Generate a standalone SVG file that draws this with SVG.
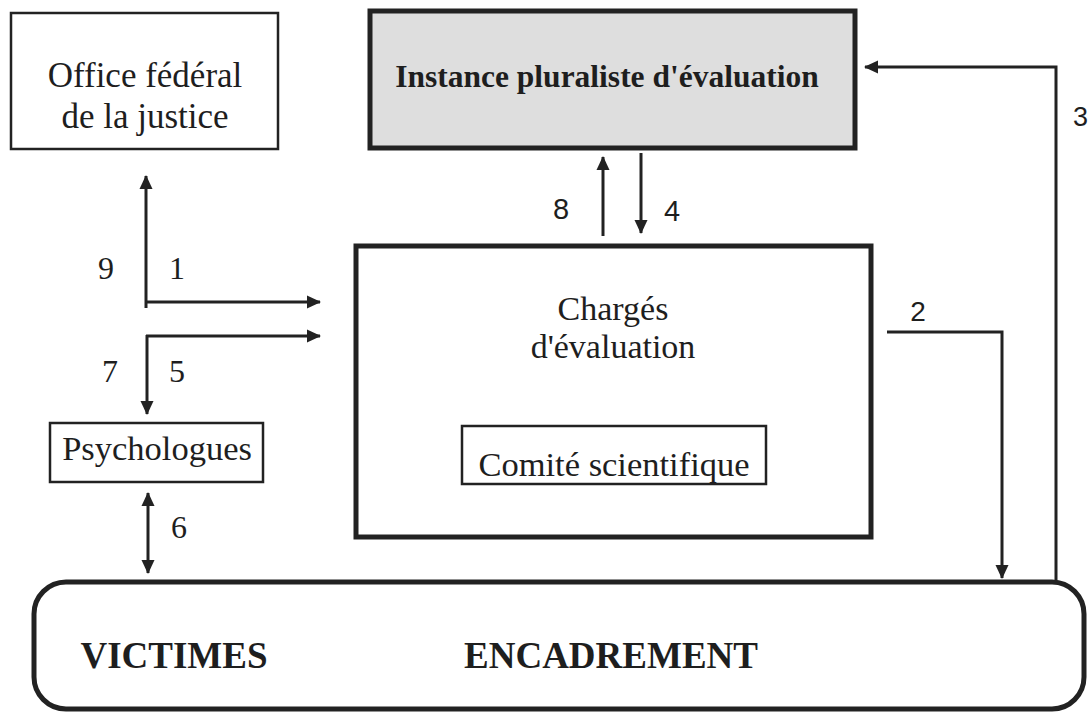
<svg xmlns="http://www.w3.org/2000/svg" width="1089" height="713" viewBox="0 0 1089 713">
<style>
.serif{font-family:"Liberation Serif","Times New Roman",serif;fill:#1e1e1e}
.sans{font-family:"Liberation Sans",Arial,sans-serif;fill:#1e1e1e}
.box{fill:#fff;stroke:#222}
.conn{fill:none;stroke:#222;stroke-width:3}
</style>
<defs>
<marker id="ah" markerUnits="userSpaceOnUse" markerWidth="16" markerHeight="16" viewBox="0 0 16 16" refX="14" refY="8" orient="auto-start-reverse">
<path d="M1,1.5 L15,8 L1,14.5 Z" fill="#222"/>
</marker>
</defs>
<rect width="1089" height="713" fill="#fff"/>

<g id="office">
<rect class="box" x="11" y="13" width="267" height="136" stroke-width="2.5"/>
<text class="serif" x="145" y="87" font-size="35" text-anchor="middle">Office fédéral</text>
<text class="serif" x="145" y="128" font-size="35" text-anchor="middle">de la justice</text>
</g>

<g id="instance">
<rect x="370" y="11" width="485" height="137" fill="#dedede" stroke="#222" stroke-width="5"/>
<text class="serif" x="607" y="87" font-size="31.5" font-weight="bold" text-anchor="middle">Instance pluraliste d'évaluation</text>
</g>

<g id="charges">
<rect class="box" x="356" y="246" width="515" height="291" stroke-width="5"/>
<text class="serif" x="613" y="320" font-size="34" text-anchor="middle">Chargés</text>
<text class="serif" x="613" y="358" font-size="34" text-anchor="middle">d'évaluation</text>
</g>

<g id="comite">
<rect class="box" x="462" y="426" width="304" height="58" stroke-width="2.5"/>
<text class="serif" x="614" y="476" font-size="34.5" text-anchor="middle">Comité scientifique</text>
</g>

<g id="psychologues">
<rect class="box" x="50" y="423" width="213" height="59" stroke-width="2.5"/>
<text class="serif" x="157" y="460" font-size="34.5" text-anchor="middle">Psychologues</text>
</g>

<g id="encadrement">
<rect class="box" x="34" y="582" width="1050" height="127" rx="32" ry="32" stroke-width="5"/>
<text class="serif" x="174" y="668" font-size="37" font-weight="bold" text-anchor="middle">VICTIMES</text>
<text class="serif" x="611" y="668" font-size="37" font-weight="bold" text-anchor="middle">ENCADREMENT</text>
</g>

<g id="connectors">
<line class="conn" x1="603" y1="236" x2="603" y2="157" marker-end="url(#ah)"/>
<line class="conn" x1="641" y1="153" x2="641" y2="233" marker-end="url(#ah)"/>
<line class="conn" x1="146" y1="308" x2="146" y2="176" marker-end="url(#ah)"/>
<line class="conn" x1="145" y1="302" x2="320" y2="302" marker-end="url(#ah)"/>
<line class="conn" x1="146" y1="336" x2="320" y2="336" marker-end="url(#ah)"/>
<line class="conn" x1="147" y1="335" x2="147" y2="414" marker-end="url(#ah)"/>
<line class="conn" x1="148" y1="493" x2="148" y2="573" marker-start="url(#ah)" marker-end="url(#ah)"/>
<polyline class="conn" points="887,332 1002,332 1002,578" marker-end="url(#ah)"/>
<polyline class="conn" points="1056,581 1056,67 865,67" marker-end="url(#ah)"/>
<text class="serif" x="106" y="279" font-size="32" text-anchor="middle">9</text>
<text class="serif" x="177" y="279" font-size="32" text-anchor="middle">1</text>
<text class="serif" x="110" y="382" font-size="32" text-anchor="middle">7</text>
<text class="serif" x="177" y="382" font-size="32" text-anchor="middle">5</text>
<text class="serif" x="179" y="538" font-size="32" text-anchor="middle">6</text>
<text class="sans" x="561" y="219" font-size="29" text-anchor="middle">8</text>
<text class="sans" x="672" y="221" font-size="29" text-anchor="middle">4</text>
<text class="sans" x="918" y="321" font-size="28" text-anchor="middle">2</text>
<text class="sans" x="1073" y="126" font-size="27">3</text>
</g>
</svg>
